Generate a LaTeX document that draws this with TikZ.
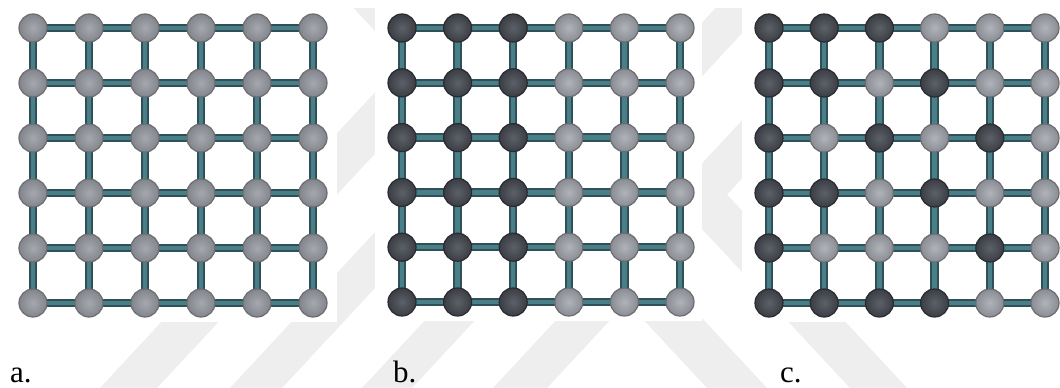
\documentclass[tikz,border=0pt]{standalone}
\usepackage{fontspec}
\setmainfont{Liberation Serif}
\pgfdeclarelayer{back}
\pgfdeclarelayer{edges}
\pgfsetlayers{back,edges,main}
\definecolor{wm}{HTML}{EEEEEE}
\definecolor{edgeout}{HTML}{2E5058}
\definecolor{edgein}{HTML}{4A7F87}
\definecolor{litein}{HTML}{B0B3BA}
\definecolor{liteout}{HTML}{8A8C93}
\definecolor{liteline}{HTML}{6C6C70}
\definecolor{aliteout}{HTML}{83858C}
\definecolor{alitein}{HTML}{A6A8AF}
\definecolor{darkin}{HTML}{5C6068}
\definecolor{darkout}{HTML}{3B3E44}
\definecolor{darkline}{HTML}{2A2B30}
\tikzset{
  atom/.style={circle, minimum size=28pt, inner sep=0pt, line width=1.2pt},
  lite/.style={atom, draw=liteline, inner color=litein, outer color=liteout},
  litea/.style={atom, draw=liteline, inner color=alitein, outer color=aliteout},
  dark/.style={atom, draw=darkline, inner color=darkin, outer color=darkout},
  bondout/.style={draw=edgeout, line width=8.5pt},
  bondin/.style={draw=edgein, line width=4.5pt},
  panel/.style={fill=white, draw=none},
  caption/.style={anchor=base west, font=\fontsize{31}{34}\selectfont, inner sep=0pt},
  stripe/.style={fill=wm, draw=none}
}
\begin{document}
\begin{tikzpicture}[x=1pt, y=-1pt]
\useasboundingbox (0,0) rectangle (1060,388);

% background watermark and panels
\begin{pgfonlayer}{back}
  \fill[white] (0,0) rectangle (1060,388);
  \begin{scope}
    \clip (0,8) rectangle (1060,388);
    \fill[stripe] (100,388) -- (157,388) -- (518,0) -- (461,0) -- cycle;
    \fill[stripe] (230,388) -- (282,388) -- (643,0) -- (591,0) -- cycle;
    \fill[stripe] (362,388) -- (412,388) -- (773,0) -- (723,0) -- cycle;
    \fill[stripe] (493,388) -- (547,388) -- (908,0) -- (854,0) -- cycle;
    \fill[stripe] (707,388) -- (767,388) -- (406,0) -- (346,0) -- cycle;
    \fill[stripe] (850,388) -- (907,388) -- (546,0) -- (489,0) -- cycle;
  \end{scope}
  \fill[panel] (9,7) rectangle (337,322);
  \fill[panel] (375,7) rectangle (702,321);
  \fill[panel] (742,7) rectangle (1060,322);
\end{pgfonlayer}

% panel a
\foreach \r in {1,...,6}{
  \foreach \c in {1,...,6}{
    \node[litea] (a-\r-\c) at ({33+56*(\c-1)},{28+55*(\r-1)}) {};
  }
}

% panel b
\foreach \r in {1,...,6}{
  \foreach \t [count=\c] in {dark,dark,dark,lite,lite,lite}{
    \node[\t] (b-\r-\c) at ({402+55.6*(\c-1)},{28+54.8*(\r-1)}) {};
  }
}

% panel c
\foreach \t [count=\c] in {dark,dark,dark,lite,lite,lite}{
  \node[\t] (c-1-\c) at ({769+55.2*(\c-1)},28) {};}
\foreach \t [count=\c] in {dark,dark,lite,dark,lite,lite}{
  \node[\t] (c-2-\c) at ({769+55.2*(\c-1)},83) {};}
\foreach \t [count=\c] in {dark,lite,dark,lite,dark,lite}{
  \node[\t] (c-3-\c) at ({769+55.2*(\c-1)},138) {};}
\foreach \t [count=\c] in {dark,dark,lite,dark,lite,lite}{
  \node[\t] (c-4-\c) at ({769+55.2*(\c-1)},193) {};}
\foreach \t [count=\c] in {dark,lite,lite,lite,dark,lite}{
  \node[\t] (c-5-\c) at ({769+55.2*(\c-1)},248) {};}
\foreach \t [count=\c] in {dark,dark,dark,dark,lite,lite}{
  \node[\t] (c-6-\c) at ({769+55.2*(\c-1)},303) {};}

% bonds
\begin{pgfonlayer}{edges}
  \foreach \p in {a,b,c}{
    \foreach \r in {1,...,6}{
      \foreach \c [evaluate=\c as \n using int(\c+1)] in {1,...,5}{
        \draw[bondout] (\p-\r-\c.center) -- (\p-\r-\n.center);
        \draw[bondout] (\p-\c-\r.center) -- (\p-\n-\r.center);
      }
    }
  }
  \foreach \p in {a,b,c}{
    \foreach \r in {1,...,6}{
      \foreach \c [evaluate=\c as \n using int(\c+1)] in {1,...,5}{
        \draw[bondin] (\p-\r-\c.center) -- (\p-\r-\n.center);
        \draw[bondin] (\p-\c-\r.center) -- (\p-\n-\r.center);
      }
    }
  }
\end{pgfonlayer}

% captions
\node[caption] (la) at (10,382) {a.};
\node[caption] (lb) at (393,382) {b.};
\node[caption] (lc) at (780,382) {c.};
\end{tikzpicture}
\end{document}
